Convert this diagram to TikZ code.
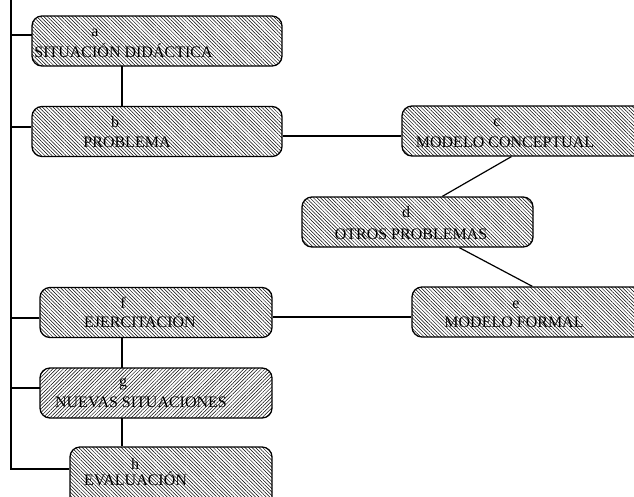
\documentclass[tikz,border=0pt]{standalone}
\usepackage{fontspec}
\setmainfont{Liberation Serif}
\usetikzlibrary{patterns.meta,calc}
\begin{document}
\begin{tikzpicture}[x=1pt,y=-1pt,
  caja/.style={draw,line width=1.3pt,rounded corners=10pt,
    pattern={Lines[angle=-45,distance=2.5pt,line width=0.5pt]},
    minimum height=50pt,inner sep=0pt},
  texto/.style={font=\fontsize{16}{18}\selectfont,inner sep=0pt,anchor=base},
  linea/.style={line width=1.2pt}]
\useasboundingbox (0,0) rectangle (634,496);
\clip (0,0) rectangle (634,496);
% cajas
\node[caja,minimum width=250pt] (a) at (157,41) {};
\node[caja,minimum width=250pt] (b) at (157,131.5) {};
\node[caja,minimum width=250pt] (c) at (527,131) {};
\node[caja,minimum width=231pt] (d) at (417.5,222) {};
\node[caja,minimum width=250pt] (e) at (537,312) {};
\node[caja,minimum width=232pt] (f) at (156,312.5) {};
\node[caja,minimum width=232pt,
  pattern={Lines[angle=45,distance=2.5pt,line width=0.5pt]}] (g) at (156,393) {};
\node[caja,minimum width=202pt,minimum height=60pt] (h) at (171,477) {};
% textos
\node[texto] (ta) at (95,36) {a};
\node[texto] (la) at (123.5,57) {SITUACIÓN DIDÁCTICA};
\node[texto] (tb) at (115,127) {b};
\node[texto] (lb) at (127,147) {PROBLEMA};
\node[texto] (tc) at (497,126) {c};
\node[texto] (lc) at (505,147) {MODELO CONCEPTUAL};
\node[texto] (td) at (406,217) {d};
\node[texto] (ld) at (411,239) {OTROS PROBLEMAS};
\node[texto] (te) at (516,308) {e};
\node[texto] (le) at (514,327) {MODELO FORMAL};
\node[texto] (tf) at (123,308) {f};
\node[texto] (lf) at (140,327) {EJERCITACIÓN};
\node[texto] (tg) at (123,386) {g};
\node[texto] (lg) at (141,407) {NUEVAS SITUACIONES};
\node[texto] (th) at (135,469) {h};
\node[texto] (lh) at (135.5,485) {EVALUACIÓN};
% conectores
\coordinate (eje) at (122,0);
\coordinate (bus) at (11,0);
\draw[linea] (a.south -| eje) -- (b.north -| eje);
\draw[linea] (f.south -| eje) -- (g.north -| eje);
\draw[linea] (g.south -| eje) -- (h.north -| eje);
\draw[linea] ([yshift=-4.5]b.east) -- ([yshift=-5]c.west);
\draw[linea] ([xshift=110]c.south west) -- ([xshift=141]d.north west);
\draw[linea] ([xshift=158]d.south west) -- ([xshift=121]e.north west);
\draw[linea] ([yshift=-4.5]f.east) -- ([yshift=-5]e.west);
\draw[linea] ([yshift=6]a.west) -| (bus) |- ([yshift=8]h.west);
\draw[linea] ([yshift=4.5]b.west) -- ([yshift=4.5]b.west -| bus);
\draw[linea] ([yshift=-5.5]f.west) -- ([yshift=-5.5]f.west -| bus);
\draw[linea] ([yshift=5]g.west) -- ([yshift=5]g.west -| bus);
\end{tikzpicture}
\end{document}
